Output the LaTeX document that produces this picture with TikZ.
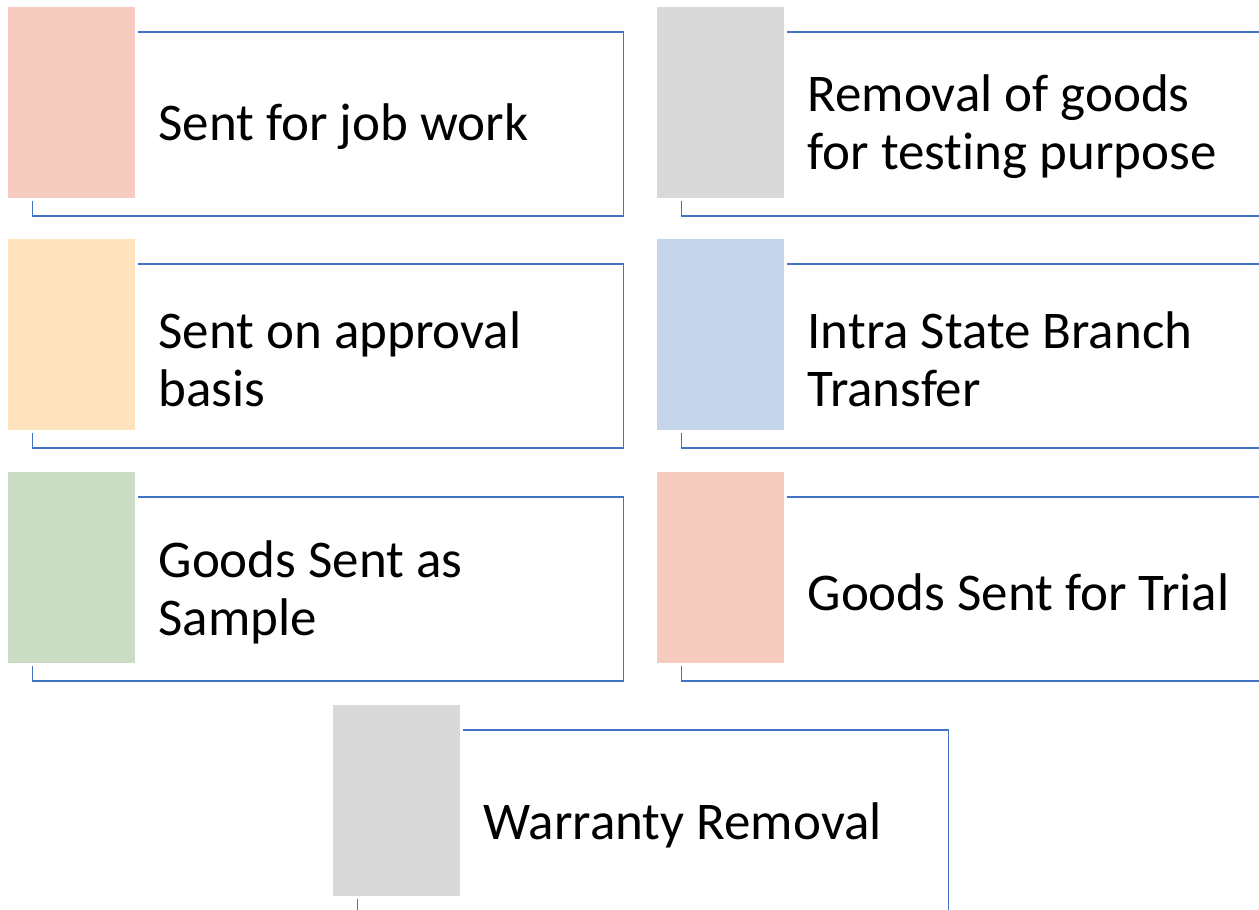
\documentclass[tikz,border=0pt]{standalone}
\usepackage{fontspec}
\setmainfont[Ligatures=NoCommon]{Carlito}
\definecolor{cpink}{RGB}{245,204,191}
\definecolor{corange}{RGB}{255,227,190}
\definecolor{cgray}{RGB}{217,217,217}
\definecolor{cblue}{RGB}{197,213,234}
\definecolor{cgreen}{RGB}{202,221,196}
\definecolor{cline}{RGB}{68,114,196}
\tikzset{
  swatch/.style={fill=#1, draw=none, minimum width=127pt, minimum height=191pt, inner sep=0pt, anchor=north west},
  frame/.style={draw=cline, line width=1.2pt},
  label/.style={anchor=west, align=left, inner sep=0pt, font=\fontsize{53pt}{58pt}\selectfont, text=black}
}
\newcommand{\mkitem}[4]{%
  \node[swatch=#3] (#1) at (#2) {};
  \draw[frame] ([xshift=3pt,yshift=-25pt]#1.north east) -- ++(485pt,0) -- ++(0,-184pt) -- ++(-591pt,0) -- ++(0,15pt);
  \node[label] (#1t) at ([xshift=23pt,yshift=-120pt]#1.north east) {#4};
}
\begin{document}
\begin{tikzpicture}[x=1pt,y=-1pt]
\useasboundingbox (0,0) rectangle (1259,910);
\clip (0,0) rectangle (1259,910);
\fill[white] (0,0) rectangle (1259,910);
\mkitem{a}{8,7}{cpink}{Sent for job work}
\mkitem{b}{657,7}{cgray}{Removal of goods\\for testing purpose}
\mkitem{c}{8,239}{corange}{Sent on approval\\basis}
\mkitem{d}{657,239}{cblue}{Intra State Branch\\Transfer}
\mkitem{e}{8,472}{cgreen}{Goods Sent as\\Sample}
\mkitem{f}{657,472}{cpink}{Goods Sent for Trial}
\mkitem{g}{333,705}{cgray}{Warranty Removal}
\end{tikzpicture}
\end{document}
